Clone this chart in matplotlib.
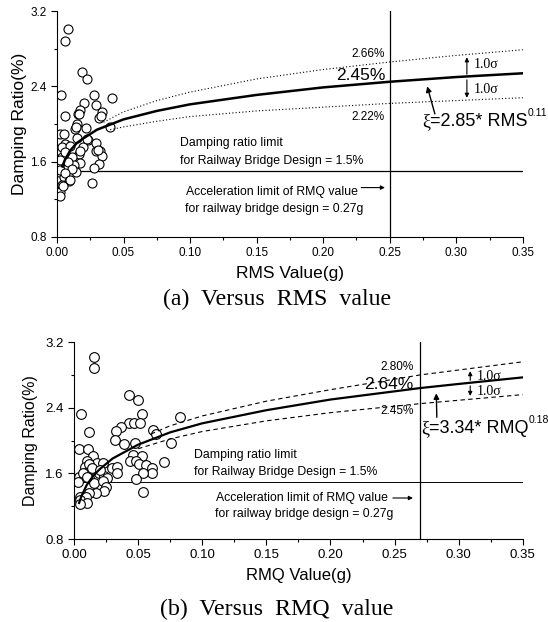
import numpy as np
import matplotlib
matplotlib.use('Agg')
import matplotlib.pyplot as plt
from matplotlib.ticker import MultipleLocator

plt.rcParams['font.family'] = 'Liberation Sans'

# ---- (a) damping ratio vs RMS value ----
rms_x = [0.0083, 0.0063, 0.0190, 0.0223, 0.0028, 0.0278, 0.0416, 0.0205, 0.0295, 0.0173,
         0.0336, 0.0158, 0.0063, 0.0318, 0.0153, 0.0218, 0.0138, 0.0400, 0.0023, 0.0053,
         0.0230, 0.0295, 0.0063, 0.0038, 0.0198, 0.0295, 0.0323, 0.0168, 0.0340, 0.0038,
         0.0115, 0.0313, 0.0173, 0.0128, 0.0080, 0.0280, 0.0140, 0.0013, 0.0053, 0.0090,
         0.0035, 0.0265, 0.0025, 0.0023, 0.0168, 0.0330, 0.0143, 0.0148, 0.0228, 0.0098,
         0.0310, 0.0060, 0.0173, 0.0023, 0.0085, 0.0023, 0.0110, 0.0060, 0.0098, 0.0048]
rms_y = [3.01, 2.88, 2.55, 2.48, 2.31, 2.31, 2.28, 2.22, 2.20, 2.15,
         2.13, 2.11, 2.09, 2.07, 2.00, 1.96, 1.95, 1.97, 1.89, 1.89,
         1.83, 1.80, 1.79, 1.76, 1.76, 1.71, 1.71, 1.68, 1.66, 1.65,
         1.65, 1.58, 1.59, 1.57, 1.54, 1.53, 1.49, 1.49, 1.44, 1.39,
         1.35, 1.37, 1.28, 1.24, 2.11, 2.09, 1.97, 1.85, 1.84, 1.77,
         1.72, 1.70, 1.71, 1.62, 1.60, 1.51, 1.52, 1.48, 1.41, 1.34]

# fitted curve and +-1 sigma lines
fit_a_x = [0.004, 0.006, 0.01, 0.015, 0.02, 0.03, 0.05, 0.075, 0.1, 0.15, 0.2, 0.25, 0.3, 0.35]
fit_a_y = [1.55, 1.62, 1.72, 1.80, 1.85, 1.94, 2.05, 2.14, 2.21, 2.31, 2.39, 2.45, 2.50, 2.54]
up_a_x = [0.035, 0.05, 0.075, 0.1, 0.15, 0.2, 0.25, 0.3, 0.35]
up_a_y = [2.02, 2.13, 2.25, 2.34, 2.48, 2.58, 2.66, 2.73, 2.79]
lo_a_x = [0.04, 0.05, 0.075, 0.1, 0.15, 0.2, 0.25, 0.3, 0.35]
lo_a_y = [1.94, 1.97, 2.03, 2.08, 2.14, 2.18, 2.22, 2.25, 2.28]

# ---- (b) damping ratio vs RMQ value ----
rmq_x = [0.0158, 0.0158, 0.0426, 0.0496, 0.0057, 0.0533, 0.0824, 0.0426, 0.0468, 0.0514,
         0.0369, 0.0330, 0.0613, 0.0637, 0.0119, 0.0320, 0.0392, 0.0478, 0.0754, 0.0041,
         0.0107, 0.0150, 0.0101, 0.0182, 0.0462, 0.0533, 0.0436, 0.0480, 0.0504, 0.0559,
         0.0701, 0.0605, 0.0608, 0.0535, 0.0296, 0.0335, 0.0335, 0.0083, 0.0119, 0.0192,
         0.0234, 0.0255, 0.0086, 0.0036, 0.0029, 0.0114, 0.0158, 0.0224, 0.0486, 0.0249,
         0.0234, 0.0174, 0.0114, 0.0535, 0.0044, 0.0091, 0.0047, 0.0104, 0.0047, 0.0228,
         0.0072, 0.0138, 0.0203, 0.0099]
rmq_y = [3.02, 2.89, 2.55, 2.49, 2.32, 2.32, 2.29, 2.22, 2.22, 2.21,
         2.16, 2.12, 2.13, 2.08, 2.10, 2.01, 1.96, 1.97, 1.97, 1.90,
         1.90, 1.81, 1.75, 1.73, 1.83, 1.81, 1.75, 1.75, 1.71, 1.70,
         1.74, 1.67, 1.61, 1.60, 1.66, 1.68, 1.60, 1.68, 1.71, 1.60,
         1.57, 1.54, 1.60, 1.55, 1.50, 1.54, 1.48, 1.51, 1.53, 1.44,
         1.39, 1.36, 1.36, 1.37, 1.31, 1.31, 1.28, 1.24, 1.23, 1.73,
         1.61, 1.66, 1.64, 1.56]

fit_b_x = [0.004, 0.006, 0.01, 0.015, 0.02, 0.03, 0.05, 0.075, 0.1, 0.15, 0.2, 0.25, 0.27, 0.3, 0.35]
fit_b_y = [1.24, 1.33, 1.46, 1.57, 1.65, 1.78, 1.95, 2.10, 2.21, 2.37, 2.50, 2.60, 2.64, 2.69, 2.77]
up_b_x = [0.06, 0.075, 0.1, 0.15, 0.2, 0.27, 0.35]
up_b_y = [2.08, 2.18, 2.30, 2.48, 2.62, 2.80, 2.96]
lo_b_x = [0.05, 0.075, 0.1, 0.15, 0.2, 0.27, 0.35]
lo_b_y = [1.90, 2.02, 2.11, 2.24, 2.34, 2.45, 2.56]

x_ticks = [0.00, 0.05, 0.10, 0.15, 0.20, 0.25, 0.30, 0.35]
y_ticks = [0.8, 1.6, 2.4, 3.2]

fig = plt.figure(figsize=(5.48, 6.22), dpi=100)
ax1 = fig.add_axes([0.104, 0.619, 0.850, 0.363])
ax2 = fig.add_axes([0.135, 0.1334, 0.819, 0.3166])


def style_axes(ax, tick_size):
    ax.set_xlim(0, 0.35)
    ax.set_ylim(0.8, 3.2)
    ax.set_xticks(x_ticks)
    ax.set_xticklabels(['%.2f' % v for v in x_ticks])
    ax.set_yticks(y_ticks)
    ax.set_yticklabels(['%.1f' % v for v in y_ticks])
    ax.xaxis.set_minor_locator(MultipleLocator(0.025))
    ax.yaxis.set_minor_locator(MultipleLocator(0.4))
    ax.spines['top'].set_visible(False)
    ax.spines['right'].set_visible(False)
    ax.tick_params(which='major', direction='out', length=4, width=0.8, labelsize=tick_size)
    ax.tick_params(which='minor', direction='out', length=2, width=0.8)


def fit_label(ax, x, y, name, power):
    # xi in a serif face, the rest in sans, small raised exponent
    t1 = ax.text(x, y, 'ξ', fontsize=13, family='Liberation Serif', va='center')
    t2 = ax.annotate(name, xy=(1, 0.5), xycoords=t1, va='center', fontsize=13)
    ax.annotate(power, xy=(1, 0.72), xycoords=t2, va='bottom', fontsize=7.5)


def sigma_arrows(ax, x, y0, y_up, y_lo, ty_up, ty_lo):
    ax.annotate('', xy=(x, y_up), xytext=(x, y0),
                arrowprops=dict(arrowstyle='-|>', color='black', lw=0.8, mutation_scale=6))
    ax.annotate('', xy=(x, y_lo), xytext=(x, y0),
                arrowprops=dict(arrowstyle='-|>', color='black', lw=0.8, mutation_scale=6))
    ax.text(x + 0.005, ty_up, '1.0σ', fontsize=10, family='Liberation Serif', va='center')
    ax.text(x + 0.005, ty_lo, '1.0σ', fontsize=10, family='Liberation Serif', va='center')


# ------------- panel (a) -------------
style_axes(ax1, 8.5)
ax1.axhline(1.5, color='black', lw=0.9, zorder=1)
ax1.axvline(0.25, color='black', lw=0.9, zorder=1)
ax1.plot(rms_x, rms_y, 'o', ms=6.5, mfc='white', mec='black', mew=0.8, zorder=2)
ax1.plot(fit_a_x, fit_a_y, color='black', lw=1.8, zorder=3)
ax1.plot(up_a_x, up_a_y, color='black', lw=0.8, ls=(0, (1, 2)), zorder=3)
ax1.plot(lo_a_x, lo_a_y, color='black', lw=0.8, ls=(0, (1, 2)), zorder=3)

ax1.text(0.2465, 2.74, '2.66%', ha='right', va='center', fontsize=8.5)
ax1.text(0.2465, 2.515, '2.45%', ha='right', va='center', fontsize=12.5)
ax1.text(0.2465, 2.08, '2.22%', ha='right', va='center', fontsize=8.5)
sigma_arrows(ax1, 0.308, 2.50, 2.74, 2.25, 2.63, 2.37)
ax1.annotate('', xy=(0.2776, 2.43), xytext=(0.2845, 2.08),
             arrowprops=dict(arrowstyle='-|>', color='black', lw=1.0, mutation_scale=8))
fit_label(ax1, 0.2745, 2.03, '=2.85* RMS', '0.11')
ax1.text(0.0924, 1.795, 'Damping ratio limit', fontsize=8.8, va='center')
ax1.text(0.0924, 1.61, 'for Railway Bridge Design = 1.5%', fontsize=8.8, va='center')
ax1.text(0.0967, 1.28, 'Acceleration limit of RMQ value', fontsize=8.8, va='center')
ax1.text(0.0962, 1.095, 'for railway bridge design = 0.27g', fontsize=8.8, va='center')
ax1.annotate('', xy=(0.2485, 1.325), xytext=(0.2265, 1.325),
             arrowprops=dict(arrowstyle='-|>', color='black', lw=0.8, mutation_scale=6))
ax1.set_ylabel('Damping Ratio(%)', fontsize=12.5, labelpad=2)
ax1.set_xlabel('RMS Value(g)', fontsize=12.5, labelpad=5)

# ------------- panel (b) -------------
style_axes(ax2, 9.5)
ax2.axhline(1.5, color='black', lw=0.7, zorder=1)
ax2.axvline(0.27, color='black', lw=0.9, zorder=1)
ax2.plot(rmq_x, rmq_y, 'o', ms=7, mfc='white', mec='black', mew=0.8, zorder=2)
ax2.plot(fit_b_x, fit_b_y, color='black', lw=1.6, zorder=3)
ax2.plot(up_b_x, up_b_y, color='black', lw=0.8, ls=(0, (4, 3)), zorder=3)
ax2.plot(lo_b_x, lo_b_y, color='black', lw=0.8, ls=(0, (4, 3)), zorder=3)

ax2.text(0.265, 2.896, '2.80%', ha='right', va='center', fontsize=8.5)
ax2.text(0.265, 2.685, '2.64%', ha='right', va='center', fontsize=12.5)
ax2.text(0.265, 2.357, '2.45%', ha='right', va='center', fontsize=8.5)
sigma_arrows(ax2, 0.309, 2.70, 2.88, 2.51, 2.78, 2.60)
ax2.annotate('', xy=(0.2825, 2.61), xytext=(0.283, 2.25),
             arrowprops=dict(arrowstyle='-|>', color='black', lw=1.0, mutation_scale=8))
fit_label(ax2, 0.271, 2.146, '=3.34* RMQ', '0.18')
ax2.text(0.0938, 1.82, 'Damping ratio limit', fontsize=8.8, va='center')
ax2.text(0.0938, 1.618, 'for Railway Bridge Design = 1.5%', fontsize=8.8, va='center')
ax2.text(0.1107, 1.295, 'Acceleration limit of RMQ value', fontsize=8.8, va='center')
ax2.text(0.1100, 1.11, 'for railway bridge design = 0.27g', fontsize=8.8, va='center')
ax2.annotate('', xy=(0.2665, 1.30), xytext=(0.2465, 1.30),
             arrowprops=dict(arrowstyle='-|>', color='black', lw=0.8, mutation_scale=6))
ax2.set_ylabel('Damping Ratio(%)', fontsize=11.5, labelpad=5)
ax2.set_xlabel('RMQ Value(g)', fontsize=12, labelpad=5)

# captions
fig.text(0.505, 1 - 299 / 622, '(a)  Versus  RMS  value', ha='center', va='center',
         fontsize=17.2, family='Liberation Serif')
fig.text(0.505, 1 - 609 / 622, '(b)  Versus  RMQ  value', ha='center', va='center',
         fontsize=17.2, family='Liberation Serif')

fig.savefig('out.png', dpi=100)
